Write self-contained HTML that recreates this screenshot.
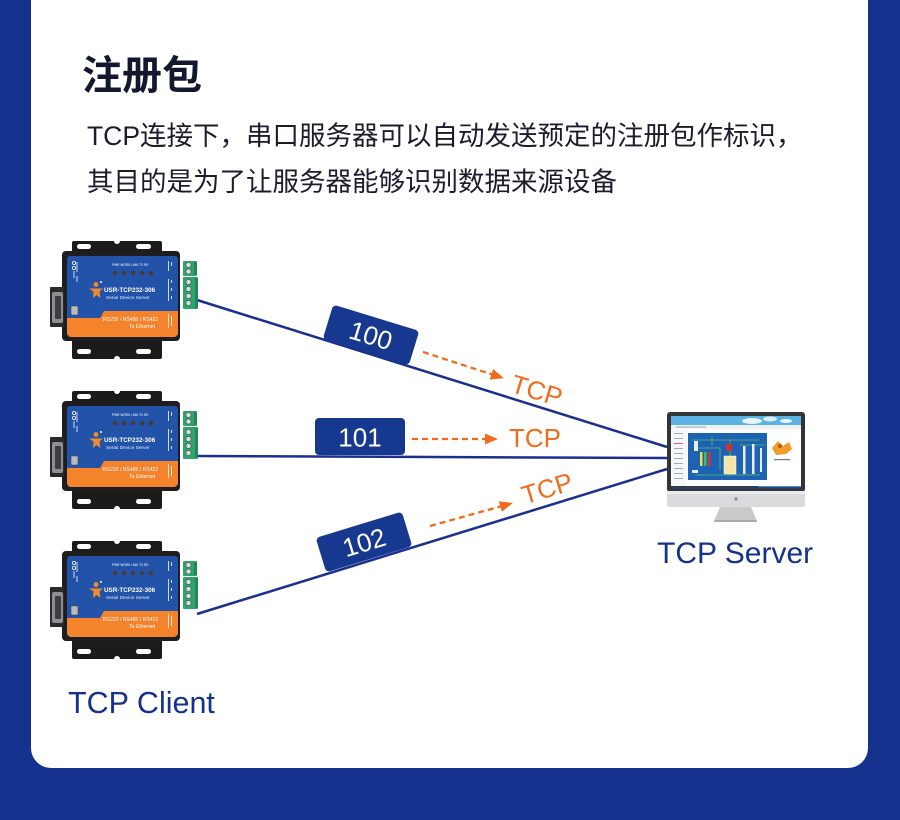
<!DOCTYPE html>
<html>
<head>
<meta charset="utf-8">
<style>
  html,body{margin:0;padding:0;background:#14318e;}
  svg{display:block;}
  .lat{font-family:"Liberation Sans","Noto Sans CJK SC",sans-serif;}
</style>
</head>
<body>
<svg width="900" height="820" viewBox="0 0 900 820" xmlns="http://www.w3.org/2000/svg" class="lat">
  <rect x="0" y="0" width="900" height="820" fill="#14318e"/>
  <rect x="31" y="-40" width="837" height="808" rx="20" ry="20" fill="#ffffff"/>

  <!-- Title -->
  <text x="82" y="89" font-size="40" font-weight="700" fill="#14182e" font-family="'Liberation Sans','Noto Sans CJK SC',sans-serif">注册包</text>
  <text x="87" y="145" font-size="26.5" fill="#1b1c2c" font-family="'Liberation Sans','Noto Sans CJK SC',sans-serif">TCP连接下，串口服务器可以自动发送预定的注册包作标识，</text>
  <text x="87" y="191" font-size="26.5" fill="#1b1c2c" font-family="'Liberation Sans','Noto Sans CJK SC',sans-serif">其目的是为了让服务器能够识别数据来源设备</text>

  <!-- connection lines -->
  <line x1="197" y1="300" x2="667" y2="447" stroke="#1a2f8f" stroke-width="2.5"/>
  <line x1="197" y1="456" x2="667" y2="458" stroke="#1a2f8f" stroke-width="2.5"/>
  <line x1="197" y1="614" x2="667" y2="469" stroke="#1a2f8f" stroke-width="2.5"/>

  <!-- Device 1 -->
  <g id="d1">
    <rect x="72" y="241" width="90" height="16" rx="2" fill="#1b1b1b"/>
    <rect x="72" y="334" width="90" height="25" rx="2" fill="#1b1b1b"/>
    <rect x="62" y="251" width="118" height="90" rx="4" fill="#1e1e1e"/>
    <rect x="77" y="244" width="14" height="5" rx="2.5" fill="#fff"/>
    <rect x="136" y="244" width="15" height="5" rx="2.5" fill="#fff"/>
    <circle cx="117" cy="241" r="3" fill="#fff"/>
    <rect x="77" y="349" width="14" height="5" rx="2.5" fill="#fff"/>
    <rect x="136" y="349" width="15" height="5" rx="2.5" fill="#fff"/>
    <circle cx="117" cy="359" r="3" fill="#fff"/>
    <!-- DB9 -->
    <rect x="50" y="287" width="14" height="40" rx="1" fill="#2a2a2a"/>
    <rect x="52" y="292" width="11" height="31" rx="2" fill="#8d8f94"/>
    <rect x="55" y="296" width="6" height="23" rx="1" fill="#3c3d42"/>
    <!-- blue panel -->
    <rect x="67" y="256" width="111" height="81" rx="3" fill="#2253a9"/>
    <polygon points="67,318 100,318 104,311 178,311 178,334 175,337 70,337 67,334" fill="#f4832b"/>
    <!-- left symbols -->
    <circle cx="74" cy="263" r="1.6" fill="none" stroke="#fff" stroke-width="0.8"/>
    <circle cx="74" cy="268" r="1.6" fill="none" stroke="#fff" stroke-width="0.8"/>
    <rect x="73.5" y="271" width="1" height="7" fill="#cfdaf3"/>
    <rect x="76.5" y="262" width="1" height="10" fill="#cfdaf3"/>
    <rect x="76.5" y="276" width="1" height="6" fill="#cfdaf3"/>
    <!-- usb -->
    <rect x="71" y="306" width="7" height="9" rx="1" fill="#b7bac0" stroke="#444" stroke-width="0.6"/>
    <!-- LEDs -->
    <text x="112" y="266" font-size="3.2" fill="#fff">PWR WORK LINK  TX   RX</text>
    <circle cx="115" cy="273" r="2.3" fill="#4a3a35"/>
    <circle cx="124" cy="273" r="2.3" fill="#4a3a35"/>
    <circle cx="133" cy="273" r="2.3" fill="#4a3a35"/>
    <circle cx="142" cy="273" r="2.3" fill="#4a3a35"/>
    <circle cx="151" cy="273" r="2.3" fill="#4a3a35"/>
    <!-- logo -->
    <circle cx="96" cy="284.5" r="2.4" fill="#f08a2c"/>
    <circle cx="101" cy="282" r="1" fill="#fff"/>
    <path d="M89,288.5 L103,288.5 L99.5,291.5 L100.5,298 L96.5,295 L93,298 L93.5,291.5 Z" fill="#f08a2c"/>
    <text x="104" y="292" font-size="6.3" font-weight="700" fill="#fff">USR-TCP232-306</text>
    <text x="106" y="299" font-size="4.8" fill="#e3eafb">Serial Device Server</text>
    <text x="103" y="321" font-size="5.1" fill="#fff">RS232 / RS485 / RS422</text>
    <text x="129" y="328" font-size="5.1" fill="#fff">To Ethernet</text>
    <!-- right labels -->
    <rect x="168" y="261" width="1" height="10" fill="#cfdaf3"/>
    <rect x="171" y="262" width="1" height="4" fill="#cfdaf3"/>
    <rect x="168" y="279" width="1" height="22" fill="#cfdaf3"/>
    <rect x="171" y="280" width="1" height="3" fill="#cfdaf3"/>
    <rect x="171" y="288" width="1" height="3" fill="#cfdaf3"/>
    <rect x="171" y="296" width="1" height="3" fill="#cfdaf3"/>
    <rect x="168" y="314" width="1" height="14" fill="#fde3c8"/>
    <rect x="171" y="316" width="1" height="10" fill="#fde3c8"/>
    <!-- terminal blocks -->
    <rect x="183" y="261" width="14" height="15" rx="1" fill="#2fa56e"/>
    <rect x="183" y="277" width="15" height="32" rx="1" fill="#2fa56e"/>
    <rect x="194" y="262" width="3" height="13" fill="#23875a"/>
    <rect x="195" y="278" width="3" height="30" fill="#23875a"/>
    <circle cx="188.5" cy="265" r="2.6" fill="#d9e0d9" stroke="#444" stroke-width="0.6"/>
    <circle cx="188.5" cy="271.5" r="2.6" fill="#d9e0d9" stroke="#444" stroke-width="0.6"/>
    <circle cx="188.5" cy="282" r="2.6" fill="#d9e0d9" stroke="#444" stroke-width="0.6"/>
    <circle cx="188.5" cy="289" r="2.6" fill="#d9e0d9" stroke="#444" stroke-width="0.6"/>
    <circle cx="188.5" cy="296" r="2.6" fill="#d9e0d9" stroke="#444" stroke-width="0.6"/>
    <circle cx="188.5" cy="303" r="2.6" fill="#d9e0d9" stroke="#444" stroke-width="0.6"/>
  </g>

  <!-- Device 2 -->
  <g transform="translate(0,150)">
    <rect x="72" y="241" width="90" height="16" rx="2" fill="#1b1b1b"/>
    <rect x="72" y="334" width="90" height="25" rx="2" fill="#1b1b1b"/>
    <rect x="62" y="251" width="118" height="90" rx="4" fill="#1e1e1e"/>
    <rect x="77" y="244" width="14" height="5" rx="2.5" fill="#fff"/>
    <rect x="136" y="244" width="15" height="5" rx="2.5" fill="#fff"/>
    <circle cx="117" cy="241" r="3" fill="#fff"/>
    <rect x="77" y="349" width="14" height="5" rx="2.5" fill="#fff"/>
    <rect x="136" y="349" width="15" height="5" rx="2.5" fill="#fff"/>
    <circle cx="117" cy="359" r="3" fill="#fff"/>
    <rect x="50" y="287" width="14" height="40" rx="1" fill="#2a2a2a"/>
    <rect x="52" y="292" width="11" height="31" rx="2" fill="#8d8f94"/>
    <rect x="55" y="296" width="6" height="23" rx="1" fill="#3c3d42"/>
    <rect x="67" y="256" width="111" height="81" rx="3" fill="#2253a9"/>
    <polygon points="67,318 100,318 104,311 178,311 178,334 175,337 70,337 67,334" fill="#f4832b"/>
    <circle cx="74" cy="263" r="1.6" fill="none" stroke="#fff" stroke-width="0.8"/>
    <circle cx="74" cy="268" r="1.6" fill="none" stroke="#fff" stroke-width="0.8"/>
    <rect x="73.5" y="271" width="1" height="7" fill="#cfdaf3"/>
    <rect x="76.5" y="262" width="1" height="10" fill="#cfdaf3"/>
    <rect x="76.5" y="276" width="1" height="6" fill="#cfdaf3"/>
    <rect x="71" y="306" width="7" height="9" rx="1" fill="#b7bac0" stroke="#444" stroke-width="0.6"/>
    <text x="112" y="266" font-size="3.2" fill="#fff">PWR WORK LINK  TX   RX</text>
    <circle cx="115" cy="273" r="2.3" fill="#4a3a35"/>
    <circle cx="124" cy="273" r="2.3" fill="#4a3a35"/>
    <circle cx="133" cy="273" r="2.3" fill="#4a3a35"/>
    <circle cx="142" cy="273" r="2.3" fill="#4a3a35"/>
    <circle cx="151" cy="273" r="2.3" fill="#4a3a35"/>
    <circle cx="96" cy="284.5" r="2.4" fill="#f08a2c"/>
    <circle cx="101" cy="282" r="1" fill="#fff"/>
    <path d="M89,288.5 L103,288.5 L99.5,291.5 L100.5,298 L96.5,295 L93,298 L93.5,291.5 Z" fill="#f08a2c"/>
    <text x="104" y="292" font-size="6.3" font-weight="700" fill="#fff">USR-TCP232-306</text>
    <text x="106" y="299" font-size="4.8" fill="#e3eafb">Serial Device Server</text>
    <text x="103" y="321" font-size="5.1" fill="#fff">RS232 / RS485 / RS422</text>
    <text x="129" y="328" font-size="5.1" fill="#fff">To Ethernet</text>
    <rect x="168" y="261" width="1" height="10" fill="#cfdaf3"/>
    <rect x="171" y="262" width="1" height="4" fill="#cfdaf3"/>
    <rect x="168" y="279" width="1" height="22" fill="#cfdaf3"/>
    <rect x="171" y="280" width="1" height="3" fill="#cfdaf3"/>
    <rect x="171" y="288" width="1" height="3" fill="#cfdaf3"/>
    <rect x="171" y="296" width="1" height="3" fill="#cfdaf3"/>
    <rect x="168" y="314" width="1" height="14" fill="#fde3c8"/>
    <rect x="171" y="316" width="1" height="10" fill="#fde3c8"/>
    <rect x="183" y="261" width="14" height="15" rx="1" fill="#2fa56e"/>
    <rect x="183" y="277" width="15" height="32" rx="1" fill="#2fa56e"/>
    <rect x="194" y="262" width="3" height="13" fill="#23875a"/>
    <rect x="195" y="278" width="3" height="30" fill="#23875a"/>
    <circle cx="188.5" cy="265" r="2.6" fill="#d9e0d9" stroke="#444" stroke-width="0.6"/>
    <circle cx="188.5" cy="271.5" r="2.6" fill="#d9e0d9" stroke="#444" stroke-width="0.6"/>
    <circle cx="188.5" cy="282" r="2.6" fill="#d9e0d9" stroke="#444" stroke-width="0.6"/>
    <circle cx="188.5" cy="289" r="2.6" fill="#d9e0d9" stroke="#444" stroke-width="0.6"/>
    <circle cx="188.5" cy="296" r="2.6" fill="#d9e0d9" stroke="#444" stroke-width="0.6"/>
    <circle cx="188.5" cy="303" r="2.6" fill="#d9e0d9" stroke="#444" stroke-width="0.6"/>
  </g>

  <!-- Device 3 -->
  <g transform="translate(0,300)">
    <rect x="72" y="241" width="90" height="16" rx="2" fill="#1b1b1b"/>
    <rect x="72" y="334" width="90" height="25" rx="2" fill="#1b1b1b"/>
    <rect x="62" y="251" width="118" height="90" rx="4" fill="#1e1e1e"/>
    <rect x="77" y="244" width="14" height="5" rx="2.5" fill="#fff"/>
    <rect x="136" y="244" width="15" height="5" rx="2.5" fill="#fff"/>
    <circle cx="117" cy="241" r="3" fill="#fff"/>
    <rect x="77" y="349" width="14" height="5" rx="2.5" fill="#fff"/>
    <rect x="136" y="349" width="15" height="5" rx="2.5" fill="#fff"/>
    <circle cx="117" cy="359" r="3" fill="#fff"/>
    <rect x="50" y="287" width="14" height="40" rx="1" fill="#2a2a2a"/>
    <rect x="52" y="292" width="11" height="31" rx="2" fill="#8d8f94"/>
    <rect x="55" y="296" width="6" height="23" rx="1" fill="#3c3d42"/>
    <rect x="67" y="256" width="111" height="81" rx="3" fill="#2253a9"/>
    <polygon points="67,318 100,318 104,311 178,311 178,334 175,337 70,337 67,334" fill="#f4832b"/>
    <circle cx="74" cy="263" r="1.6" fill="none" stroke="#fff" stroke-width="0.8"/>
    <circle cx="74" cy="268" r="1.6" fill="none" stroke="#fff" stroke-width="0.8"/>
    <rect x="73.5" y="271" width="1" height="7" fill="#cfdaf3"/>
    <rect x="76.5" y="262" width="1" height="10" fill="#cfdaf3"/>
    <rect x="76.5" y="276" width="1" height="6" fill="#cfdaf3"/>
    <rect x="71" y="306" width="7" height="9" rx="1" fill="#b7bac0" stroke="#444" stroke-width="0.6"/>
    <text x="112" y="266" font-size="3.2" fill="#fff">PWR WORK LINK  TX   RX</text>
    <circle cx="115" cy="273" r="2.3" fill="#4a3a35"/>
    <circle cx="124" cy="273" r="2.3" fill="#4a3a35"/>
    <circle cx="133" cy="273" r="2.3" fill="#4a3a35"/>
    <circle cx="142" cy="273" r="2.3" fill="#4a3a35"/>
    <circle cx="151" cy="273" r="2.3" fill="#4a3a35"/>
    <circle cx="96" cy="284.5" r="2.4" fill="#f08a2c"/>
    <circle cx="101" cy="282" r="1" fill="#fff"/>
    <path d="M89,288.5 L103,288.5 L99.5,291.5 L100.5,298 L96.5,295 L93,298 L93.5,291.5 Z" fill="#f08a2c"/>
    <text x="104" y="292" font-size="6.3" font-weight="700" fill="#fff">USR-TCP232-306</text>
    <text x="106" y="299" font-size="4.8" fill="#e3eafb">Serial Device Server</text>
    <text x="103" y="321" font-size="5.1" fill="#fff">RS232 / RS485 / RS422</text>
    <text x="129" y="328" font-size="5.1" fill="#fff">To Ethernet</text>
    <rect x="168" y="261" width="1" height="10" fill="#cfdaf3"/>
    <rect x="171" y="262" width="1" height="4" fill="#cfdaf3"/>
    <rect x="168" y="279" width="1" height="22" fill="#cfdaf3"/>
    <rect x="171" y="280" width="1" height="3" fill="#cfdaf3"/>
    <rect x="171" y="288" width="1" height="3" fill="#cfdaf3"/>
    <rect x="171" y="296" width="1" height="3" fill="#cfdaf3"/>
    <rect x="168" y="314" width="1" height="14" fill="#fde3c8"/>
    <rect x="171" y="316" width="1" height="10" fill="#fde3c8"/>
    <rect x="183" y="261" width="14" height="15" rx="1" fill="#2fa56e"/>
    <rect x="183" y="277" width="15" height="32" rx="1" fill="#2fa56e"/>
    <rect x="194" y="262" width="3" height="13" fill="#23875a"/>
    <rect x="195" y="278" width="3" height="30" fill="#23875a"/>
    <circle cx="188.5" cy="265" r="2.6" fill="#d9e0d9" stroke="#444" stroke-width="0.6"/>
    <circle cx="188.5" cy="271.5" r="2.6" fill="#d9e0d9" stroke="#444" stroke-width="0.6"/>
    <circle cx="188.5" cy="282" r="2.6" fill="#d9e0d9" stroke="#444" stroke-width="0.6"/>
    <circle cx="188.5" cy="289" r="2.6" fill="#d9e0d9" stroke="#444" stroke-width="0.6"/>
    <circle cx="188.5" cy="296" r="2.6" fill="#d9e0d9" stroke="#444" stroke-width="0.6"/>
    <circle cx="188.5" cy="303" r="2.6" fill="#d9e0d9" stroke="#444" stroke-width="0.6"/>
  </g>

  <!-- Label boxes -->
  <g transform="translate(371,335) rotate(17)">
    <rect x="-45" y="-18" width="90" height="36" rx="4" fill="#17388f"/>
    <text x="0" y="9.5" text-anchor="middle" font-size="26" fill="#fff">100</text>
  </g>
  <g>
    <rect x="315" y="418" width="90" height="37" rx="4" fill="#17388f"/>
    <text x="360" y="446.5" text-anchor="middle" font-size="26" fill="#fff">101</text>
  </g>
  <g transform="translate(364,542) rotate(-17)">
    <rect x="-45" y="-18" width="90" height="36" rx="4" fill="#17388f"/>
    <text x="0" y="9.5" text-anchor="middle" font-size="26" fill="#fff">102</text>
  </g>

  <!-- dashed arrows -->
  <g transform="translate(423,352) rotate(18)">
    <line x1="0" y1="0" x2="73" y2="0" stroke="#f26b1d" stroke-width="2.3" stroke-dasharray="6 4"/>
    <polygon points="72,-5.5 85,0 72,5.5" fill="#f26b1d"/>
  </g>
  <g transform="translate(412,439)">
    <line x1="0" y1="0" x2="74" y2="0" stroke="#f26b1d" stroke-width="2.3" stroke-dasharray="6 4"/>
    <polygon points="73,-5.5 86,0 73,5.5" fill="#f26b1d"/>
  </g>
  <g transform="translate(430,526) rotate(-15.5)">
    <line x1="0" y1="0" x2="74" y2="0" stroke="#f26b1d" stroke-width="2.3" stroke-dasharray="6 4"/>
    <polygon points="73,-5.5 86,0 73,5.5" fill="#f26b1d"/>
  </g>

  <!-- TCP labels -->
  <g transform="translate(537,390) rotate(17)">
    <text x="0" y="9.5" text-anchor="middle" font-size="26" fill="#f26b1d">TCP</text>
  </g>
  <text x="535" y="447" text-anchor="middle" font-size="26" fill="#f26b1d">TCP</text>
  <g transform="translate(547,488) rotate(-17)">
    <text x="0" y="9.5" text-anchor="middle" font-size="26" fill="#f26b1d">TCP</text>
  </g>

  <!-- Monitor -->
  <g>
    <rect x="667" y="412" width="138" height="80" rx="3" fill="#333436"/>
    <rect x="671" y="416" width="130" height="73" fill="#ffffff"/>
    <rect x="671" y="416" width="130" height="9" fill="#5ab3e4"/>
    <ellipse cx="752" cy="421" rx="10" ry="3" fill="#e6f4fc"/>
    <ellipse cx="770" cy="419" rx="7" ry="2.5" fill="#d9eefa"/>
    <ellipse cx="786" cy="421" rx="6" ry="2" fill="#e6f4fc"/>
    <rect x="671" y="425" width="130" height="4" fill="#eef2f6"/>
    <rect x="676" y="426.5" width="30" height="1" fill="#9aa6b5"/>
    <!-- sidebar -->
    <rect x="672" y="430" width="14" height="58" fill="#f4f6f8"/>
    <rect x="674" y="433" width="9" height="1" fill="#a0a8b4"/>
    <rect x="674" y="438" width="9" height="1" fill="#a0a8b4"/>
    <rect x="674" y="443" width="9" height="1" fill="#e06070"/>
    <rect x="674" y="448" width="9" height="1" fill="#a0a8b4"/>
    <rect x="674" y="453" width="9" height="1" fill="#a0a8b4"/>
    <rect x="674" y="458" width="9" height="1" fill="#a0a8b4"/>
    <rect x="674" y="463" width="9" height="1" fill="#a0a8b4"/>
    <rect x="674" y="468" width="9" height="1" fill="#a0a8b4"/>
    <rect x="674" y="473" width="9" height="1" fill="#a0a8b4"/>
    <rect x="674" y="478" width="9" height="1" fill="#a0a8b4"/>
    <!-- diagram panel -->
    <rect x="688" y="433" width="79" height="47" fill="#1e62b3"/>
    <path d="M692,440 H760 M694,448 H720 V470 M730,440 V476 M740,445 H765 M695,475 H760 M712,436 V446" stroke="#58c26a" stroke-width="0.8" fill="none"/>
    <rect x="694" y="441" width="4" height="10" fill="#e8eef6"/>
    <rect x="700" y="452" width="2.5" height="14" fill="#f0e040"/>
    <rect x="704" y="452" width="2.5" height="14" fill="#40c060"/>
    <rect x="708" y="452" width="2.5" height="14" fill="#e03030"/>
    <rect x="724" y="456" width="12" height="18" fill="#f3e6a8" stroke="#fff" stroke-width="0.5"/>
    <rect x="726" y="444" width="6" height="7" fill="#d03030"/>
    <rect x="743" y="446" width="2.5" height="28" fill="#e8eef6"/>
    <rect x="752" y="444" width="2.5" height="30" fill="#e8eef6"/>
    <rect x="760" y="448" width="2" height="24" fill="#e8eef6"/>
    <rect x="692" y="470" width="6" height="3" fill="#e8eef6"/>
    <!-- right image -->
    <path d="M772,448 L778,441 L783,446 L789,442 L792,449 L786,454 L776,455 Z" fill="#f29a2a"/>
    <circle cx="780" cy="446" r="2" fill="#b05a10"/>
    <rect x="774" y="459" width="16" height="1.2" fill="#777"/>
    <!-- bottom screen strip -->
    <rect x="671" y="486" width="130" height="3" fill="#2b3c56"/>
    <rect x="758" y="486" width="43" height="1.2" fill="#3d8ad8"/>
    <!-- chin -->
    <rect x="667" y="491" width="138" height="16" rx="2" fill="#dadbdd"/>
    <rect x="667" y="491" width="138" height="3" fill="#eaebec"/>
    <circle cx="736" cy="499" r="1.6" fill="#8b8d91"/>
    <!-- stand -->
    <polygon points="720,507 751,507 757,521 714,521" fill="#c9cacc"/>
    <rect x="714" y="520" width="43" height="2" rx="1" fill="#a8a9ac"/>
  </g>

  <text x="657" y="563" font-size="30" fill="#14318e">TCP Server</text>
  <text x="68" y="713" font-size="30.5" fill="#14318e">TCP Client</text>
</svg>
</body>
</html>
